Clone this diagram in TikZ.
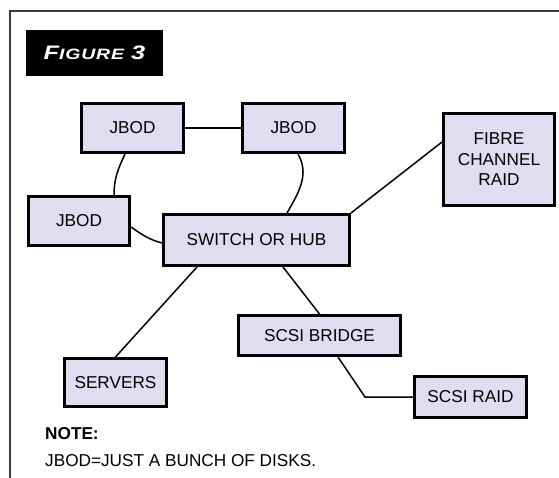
\documentclass[tikz,border=0pt]{standalone}
\usepackage{fontspec}
\setmainfont{Liberation Sans}
\usepackage{graphicx}
\usetikzlibrary{shapes}
\definecolor{boxfill}{RGB}{222,222,240}
\definecolor{framegray}{RGB}{60,60,60}

\begin{document}
\begin{tikzpicture}[x=1pt,y=-1pt]
	\useasboundingbox (0,0) rectangle (559,478);
	\draw[framegray, line width=1.2pt] (10,478) -- (10,11) -- (559,11);
	\tikzstyle{every node}=[font=\fontsize{17.2}{20.5}\selectfont, inner sep=0pt]
	\tikzstyle{box}=[draw, line width=3pt, fill=boxfill, align=center]
	% heading tab
	\draw (94.5,53) node[fill=black, text=white, minimum width=137pt, minimum height=46pt] (title) {\bfseries\itshape\scalebox{1.3}[1]{\addfontfeature{LetterSpace=4}{\fontsize{19.5}{19.5}\selectfont F}{\fontsize{15}{15}\selectfont IGURE}\ {\fontsize{19.5}{19.5}\selectfont 3}}};
	% storage and hosts
	\draw (132.5,128) node[box, minimum width=102pt, minimum height=49pt] (jbodA) {JBOD};
	\draw (293.5,128) node[box, minimum width=102pt, minimum height=49pt] (jbodB) {JBOD};
	\draw (79,221) node[box, minimum width=101pt, minimum height=49pt] (jbodC) {JBOD};
	\draw (499,159.5) node[box, minimum width=111pt, minimum height=92pt] (fcraid) {FIBRE\\CHANNEL\\RAID};
	\draw (256.5,240) node[box, minimum width=186pt, minimum height=51pt] (switch) {SWITCH OR HUB};
	\draw (115.5,382.5) node[box, minimum width=102pt, minimum height=48pt] (servers) {SERVERS};
	\draw (319.5,335.5) node[box, minimum width=162pt, minimum height=40pt] (bridge) {SCSI BRIDGE};
	\draw (470.5,397) node[box, minimum width=112pt, minimum height=41pt] (scsiraid) {SCSI RAID};
	\coordinate (bend) at (365,397);
	% links
	\draw [line width=1.5pt] (jbodA) -- (jbodB);
	\draw [line width=1.5pt] ([xshift=-7.5pt]jbodA.south) to[out=-115, in=90] ([xshift=35pt]jbodC.north);
	\draw [line width=1.5pt] ([xshift=4.5pt]jbodB.south) to[out=-60, in=60] ([xshift=30.5pt]switch.north);
	\draw [line width=1.5pt] ([yshift=-6pt]jbodC.east) to[out=-35, in=165] ([yshift=-3pt]switch.west);
	\draw [line width=1.5pt] (switch.north east) -- ([yshift=17.5pt]fcraid.west);
	\draw [line width=1.5pt] ([xshift=-59.5pt]switch.south) -- (servers.north);
	\draw [line width=1.5pt] ([xshift=26.5pt]switch.south) -- (bridge.north);
	\draw [line width=1.5pt] ([xshift=18.5pt]bridge.south) -- (bend) -- (scsiraid.west);
	% footnote
	\draw (45,439) node[anchor=base west] (notehead) {\bfseries NOTE:};
	\draw (45,466) node[anchor=base west] (notetext) {JBOD=JUST A BUNCH OF DISKS.};
\end{tikzpicture}
\end{document}
